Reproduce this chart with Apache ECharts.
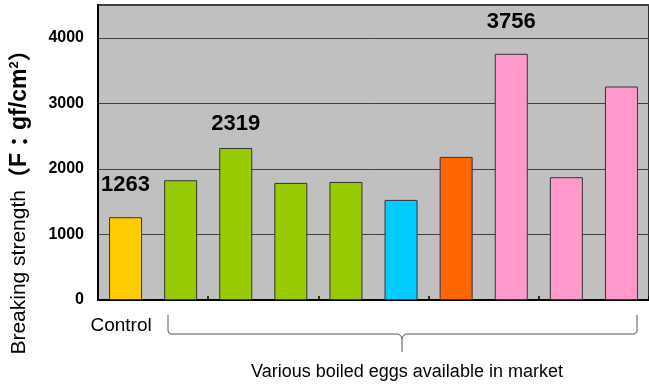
<!DOCTYPE html>
<html>
<head>
<meta charset="utf-8">
<script src="https://cdn.jsdelivr.net/npm/echarts@6/dist/echarts.min.js"></script>
<style>
  html, body { margin: 0; padding: 0; background: #ffffff; }
  #chart { width: 649px; height: 386px; }
</style>
</head>
<body>
<div id="chart"></div>
<script>
// Breaking strength of boiled eggs (gf/cm2)
const categories = ['Control', 'A', 'B', 'C', 'D', 'E', 'F', 'G', 'H', 'I'];
const strength = [1263, 1827, 2319, 1786, 1801, 1527, 2183, 3756, 1873, 3257];
const barColors = ['#FFCC00', '#99CC00', '#99CC00', '#99CC00', '#99CC00',
                   '#00CCFF', '#FF6600', '#FF99CC', '#FF99CC', '#FF99CC'];
// Bars whose value is printed above them, with the gap to the bar top
const labelled = { 0: 21, 2: 13, 7: 21 };
const yTicks = [0, 1000, 2000, 3000, 4000];

const chart = echarts.init(document.getElementById('chart'), null, { renderer: 'canvas' });

const data = strength.map((v, i) => ({
  value: v,
  itemStyle: { color: barColors[i] },
  label: labelled[i] !== undefined
    ? { show: true, position: 'top', distance: labelled[i] }
    : { show: false }
}));

// Curly bracket grouping the market eggs
const braceStyle = { stroke: '#555555', lineWidth: 1, fill: null };
const brace = [
  { type: 'polyline', shape: { points: [[168, 315], [168, 331], [169, 333], [171, 334], [398, 334], [400, 335], [401.5, 337], [402, 339], [402, 352]] }, style: braceStyle },
  { type: 'polyline', shape: { points: [[402, 339], [402.5, 337], [404, 335], [406, 334], [634, 334], [636, 333], [637, 331], [637, 315]] }, style: braceStyle }
];

const sans = 'Liberation Sans, Arial, sans-serif';
const cjk = "'Noto Sans CJK JP', 'Liberation Sans', sans-serif";

chart.setOption({
  animation: false,
  backgroundColor: '#ffffff',
  grid: {
    left: 98, top: 5, width: 555, height: 295,
    show: true, backgroundColor: '#C0C0C0',
    borderColor: '#000000', borderWidth: 1.5
  },
  xAxis: {
    type: 'category',
    data: categories,
    axisLine: { lineStyle: { color: '#000000', width: 2 } },
    axisTick: { show: true, inside: true, length: 4, lineStyle: { color: '#000000', width: 1.5 } },
    axisLabel: {
      margin: 16,
      padding: [0, 9, 0, 0],
      fontFamily: sans,
      fontSize: 19, color: '#000000',
      formatter: (v, i) => (i === 0 ? v : '')
    }
  },
  yAxis: {
    type: 'value',
    min: 0, max: 4500, interval: 1000,
    axisLine: { show: true, lineStyle: { color: '#000000', width: 2 } },
    axisTick: { show: false },
    splitLine: { lineStyle: { color: '#404040', width: 1 } },
    axisLabel: {
      margin: 14,
      fontFamily: sans,
      fontWeight: 'bold', fontSize: 16, color: '#000000',
      formatter: v => (yTicks.includes(v) ? String(v) : '')
    },
    name: '{n|Breaking strength}{p|（}{b|F}{p|：}{b|gf/cm}{s|2}{p|）}',
    nameLocation: 'middle',
    nameRotate: 90,
    nameGap: 67,
    nameTextStyle: {
      padding: [0, 88, 0, 0],
      rich: {
        n: { fontFamily: sans, fontSize: 21, color: '#000000' },
        b: { fontFamily: sans, fontSize: 23, fontWeight: 'bold', color: '#000000' },
        p: { fontFamily: cjk, fontSize: 23, fontWeight: 'bold', color: '#000000' },
        s: { fontFamily: sans, fontSize: 13, fontWeight: 'bold', color: '#000000', verticalAlign: 'top' }
      }
    }
  },
  series: [{
    type: 'bar',
    data: data,
    barWidth: 33,
    itemStyle: { borderColor: '#333333', borderWidth: 1 },
    label: {
      color: '#000000',
      fontFamily: sans,
      fontWeight: 'bold',
      fontSize: 22
    }
  }],
  graphic: brace.concat([
    {
      type: 'text',
      x: 407, y: 372,
      style: {
        text: 'Various boiled eggs available in market',
        fontFamily: sans,
        fontSize: 18, fill: '#000000',
        align: 'center', verticalAlign: 'middle'
      }
    }
  ])
});
</script>
</body>
</html>
